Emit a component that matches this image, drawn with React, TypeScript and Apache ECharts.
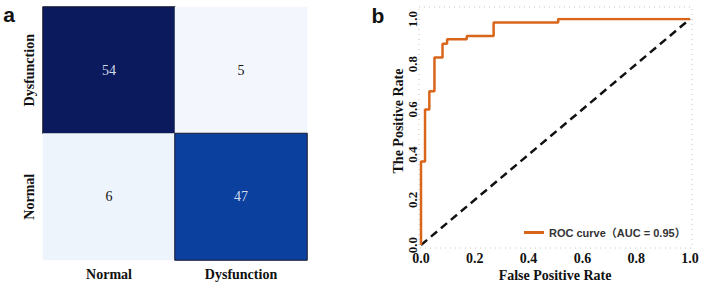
import React, { useEffect, useRef } from "react";
import * as echarts from "echarts";

const cmCategoriesX = ["Normal", "Dysfunction"];
const cmCategoriesY = ["Normal", "Dysfunction"]; // bottom to top
// [xIndex, yIndex, count]
const cmValues: [number, number, number][] = [
  [0, 1, 54],
  [1, 1, 5],
  [0, 0, 6],
  [1, 0, 47],
];
const cmColors: Record<number, string> = { 54: "#0a1a5c", 47: "#0b409e", 6: "#eef4fc", 5: "#f3f7fd" };

const rocFpr = [0, 0, 0.015, 0.015, 0.031, 0.031, 0.05, 0.05, 0.08, 0.08, 0.097, 0.097, 0.17, 0.17, 0.27, 0.27, 0.51, 0.51, 1.0];
const rocTpr = [0, 0.37, 0.37, 0.6, 0.6, 0.68, 0.68, 0.83, 0.83, 0.89, 0.89, 0.91, 0.91, 0.925, 0.925, 0.984, 0.984, 1.0, 1.0];
const chanceLine = [[0, 0], [1, 1]];
const rocName = "ROC curve（AUC = 0.95）";

const serif = "'Liberation Serif', 'DejaVu Serif', serif";
const sans = "'Liberation Sans', Arial, 'Noto Sans CJK SC', sans-serif";

export default function App() {
  const ref = useRef<HTMLDivElement>(null);
  useEffect(() => {
    if (!ref.current) return;
    const chart = echarts.init(ref.current, null, { renderer: "svg" });
    const tickLabel = {
      fontFamily: serif,
      fontWeight: "bold" as const,
      fontSize: 14,
      color: "#111",
      formatter: (v: number) => v.toFixed(1),
    };
    chart.setOption({
      animation: false,
      backgroundColor: "#ffffff",
      grid: [
        { left: 43, top: 7, width: 264, height: 253 },
        { left: 421, right: 14, top: 19, bottom: 39 },
      ],
      visualMap: {
        type: "piecewise",
        show: false,
        seriesIndex: 0,
        dimension: 2,
        pieces: Object.keys(cmColors).map((k) => ({ value: Number(k), color: cmColors[Number(k)] })),
      },
      xAxis: [
        {
          type: "category",
          gridIndex: 0,
          data: cmCategoriesX,
          axisLine: { show: false },
          axisTick: { show: false },
          axisLabel: { fontFamily: serif, fontWeight: "bold", fontSize: 14, color: "#111", margin: 7 },
        },
        {
          type: "value",
          gridIndex: 1,
          min: 0,
          max: 1,
          interval: 0.2,
          axisLine: { show: false },
          axisTick: { show: false },
          splitLine: { show: false },
          axisLabel: { ...tickLabel, margin: 6 },
        },
      ],
      yAxis: [
        {
          type: "category",
          gridIndex: 0,
          data: cmCategoriesY,
          axisLine: { show: false },
          axisTick: { show: false },
          axisLabel: { fontFamily: serif, fontWeight: "bold", fontSize: 14, color: "#111", rotate: 90, margin: 7 },
        },
        {
          type: "value",
          gridIndex: 1,
          min: 0,
          max: 1,
          interval: 0.2,
          axisLine: { show: false },
          axisTick: { show: false },
          splitLine: { show: false },
          axisLabel: { ...tickLabel, fontSize: 13, rotate: 90, margin: 2 },
        },
      ],
      legend: {
        data: [rocName],
        left: 519,
        top: 222,
        itemWidth: 20,
        itemHeight: 3,
        itemGap: 5,
        icon: "rect",
        textStyle: { fontFamily: sans, fontWeight: "bold", fontSize: 11, color: "#333" },
      },
      series: [
        {
          type: "heatmap",
          xAxisIndex: 0,
          yAxisIndex: 0,
          data: cmValues.map(([x, y, v]) => ({
            value: [x, y, v],
            itemStyle: {
              borderColor: v > 20 ? "#1a1a2a" : "#e8eef8",
              borderWidth: v > 20 ? 1 : 0,
            },
            label: { color: v > 20 ? "#d3dbea" : "#111" },
          })),
          label: {
            show: true,
            fontFamily: serif,
            fontSize: 14,
            formatter: (p: any) => String(p.value[2]),
          },
        },
        {
          type: "line",
          name: "chance",
          xAxisIndex: 1,
          yAxisIndex: 1,
          data: chanceLine,
          showSymbol: false,
          lineStyle: { color: "#111", width: 2.5, type: [8, 5] },
          z: 2,
        },
        {
          type: "line",
          name: rocName,
          xAxisIndex: 1,
          yAxisIndex: 1,
          data: rocFpr.map((x, i) => [x, rocTpr[i]]),
          showSymbol: false,
          color: "#d9651b",
          lineStyle: { color: "#d9651b", width: 2.5 },
          z: 3,
        },
      ],
      graphic: [
        {
          type: "rect",
          shape: { x: 419, y: 7, width: 273, height: 241 },
          style: { fill: "none", stroke: "#c4c4c4", lineWidth: 1, lineDash: [1, 4] },
          silent: true,
        },
        {
          type: "text",
          x: 9,
          y: 14,
          style: { text: "a", fontFamily: sans, fontWeight: "bold", fontSize: 21, fill: "#111", align: "center", verticalAlign: "middle" },
        },
        {
          type: "text",
          x: 378,
          y: 15,
          style: { text: "b", fontFamily: sans, fontWeight: "bold", fontSize: 21, fill: "#111", align: "center", verticalAlign: "middle" },
        },
        {
          type: "text",
          x: 398,
          y: 121,
          rotation: Math.PI / 2,
          style: { text: "The Positive Rate", fontFamily: serif, fontWeight: "bold", fontSize: 14, fill: "#111", align: "center", verticalAlign: "middle" },
        },
        {
          type: "text",
          x: 555,
          y: 275,
          style: { text: "False Positive Rate", fontFamily: serif, fontWeight: "bold", fontSize: 14, fill: "#111", align: "center", verticalAlign: "middle" },
        },
      ],
    });
    return () => chart.dispose();
  }, []);
  return <div ref={ref} style={{ width: 704, height: 284, position: "absolute", left: 0, top: 0 }} />;
}
